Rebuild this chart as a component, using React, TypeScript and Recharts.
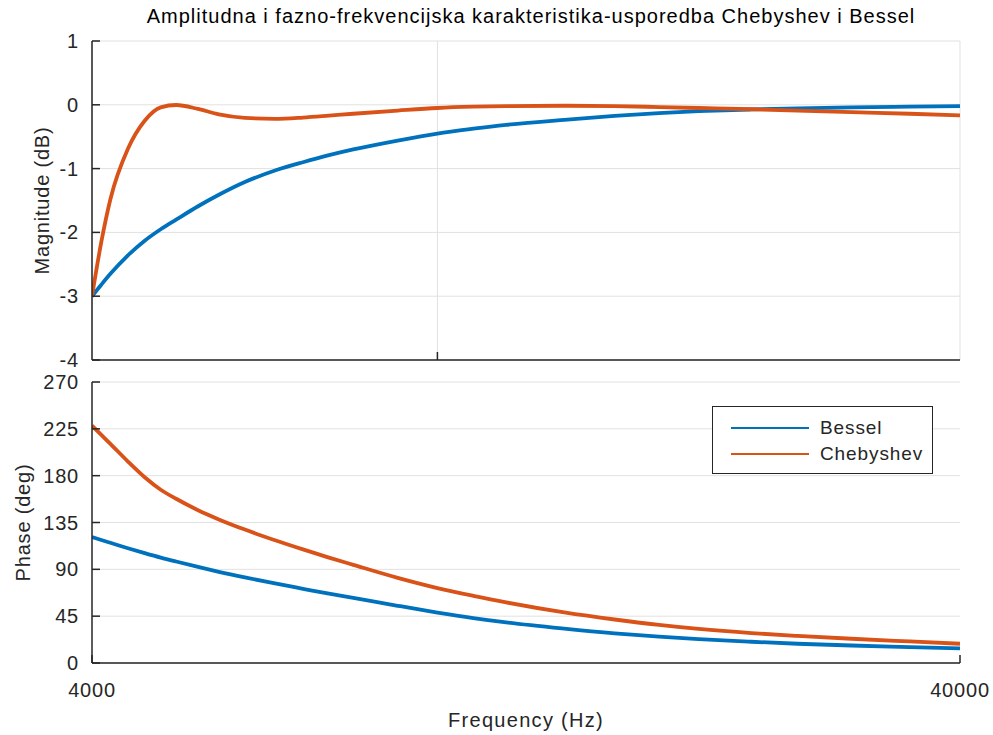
import { LineChart, Line, XAxis, YAxis, CartesianGrid, Legend } from "recharts";

// frequency points (Hz), log axis
const freq = [
  4000, 4100, 4200, 4400, 4600, 4800, 5000, 5300, 5600, 6000, 6500, 7000, 7500, 8000,
  9000, 10000, 11000, 12000, 14000, 16000, 18000, 20000, 23000, 26000, 30000, 35000, 40000,
];

// magnitude (dB)
const besselMag = [
  -3.0, -2.82, -2.65, -2.36, -2.13, -1.95, -1.8, -1.59, -1.41, -1.21, -1.03, -0.9, -0.79, -0.7,
  -0.56, -0.45, -0.375, -0.315, -0.235, -0.175, -0.13, -0.1, -0.073, -0.055, -0.04, -0.03, -0.022,
];
const chebyMag = [
  -3.0, -2.15, -1.48, -0.69, -0.25, -0.04, -0.003, -0.065, -0.15, -0.205, -0.22, -0.2, -0.17, -0.14,
  -0.09, -0.05, -0.03, -0.02, -0.015, -0.02, -0.035, -0.05, -0.07, -0.09, -0.115, -0.14, -0.165,
];

// phase (deg)
const besselPhase = [
  121, 118.2, 115.5, 110.3, 105.6, 101.3, 97.5, 92.3, 87.6, 82.2, 76.4, 71.3, 66.6, 62.6,
  55, 48.5, 43.2, 39, 33, 28.5, 25.3, 22.9, 20.4, 18.5, 16.8, 15.3, 14,
];
const chebyPhase = [
  228, 219.2, 210.6, 193.6, 178.5, 166.5, 157.8, 146.8, 138, 128.2, 118, 109.2, 101.3, 94.3,
  81.8, 72, 64.5, 58.2, 48.6, 41.8, 36.6, 32.7, 28.7, 26, 23.3, 20.7, 18.5,
];

const magTicks = [-4, -3, -2, -1, 0, 1];
const phaseTicks = [0, 45, 90, 135, 180, 225, 270];
const freqLabels = [4000, 40000];
const freqGrid = [10000];

const BLUE = "#0072BD";
const ORANGE = "#D95319";
const AXIS = "#262626";
const GRID = "#e1e1e1";
const FONT = "'Liberation Sans', Arial, Helvetica, sans-serif";

const magData = freq.map((f, i) => ({ freq: f, bessel: besselMag[i], chebyshev: chebyMag[i] }));
const phaseData = freq.map((f, i) => ({ freq: f, bessel: besselPhase[i], chebyshev: chebyPhase[i] }));

const TICK_LEN = 8;
const labelText = { fill: AXIS, fontSize: 20, letterSpacing: 0.8, fontFamily: FONT };
const axisLine = { stroke: AXIS, strokeWidth: 1.5 };

// matlab style ticks point into the plot box
const leftTick = (gap: number) => (props: any) => {
  const { x, y, payload } = props;
  const ax = x + gap;
  return (
    <g>
      <line x1={ax} x2={ax + TICK_LEN} y1={y} y2={y} stroke={AXIS} strokeWidth={1.5} />
      <text x={x} y={y} dy="0.35em" textAnchor="end" style={labelText}>
        {payload.value}
      </text>
    </g>
  );
};

const rightTick = (gap: number) => (props: any) => {
  const { x, y } = props;
  const ax = x - gap;
  return <line x1={ax - TICK_LEN} x2={ax} y1={y} y2={y} stroke={AXIS} strokeWidth={1.5} />;
};

const bottomTick = (gap: number, withLabel: boolean) => (props: any) => {
  const { x, y, payload } = props;
  const ay = y - gap;
  return (
    <g>
      <line x1={x} x2={x} y1={ay - TICK_LEN} y2={ay} stroke={AXIS} strokeWidth={1.5} />
      {withLabel && (
        <text x={x} y={y} dy="0.71em" textAnchor="middle" style={labelText}>
          {payload.value}
        </text>
      )}
    </g>
  );
};

const topTick = (gap: number) => (props: any) => {
  const { x, y } = props;
  const ay = y + gap;
  return <line x1={x} x2={x} y1={ay} y2={ay + TICK_LEN} stroke={AXIS} strokeWidth={1.5} />;
};

function LegendBox({ payload }: any) {
  return (
    <div
      style={{
        width: 221,
        height: 68,
        border: `1.5px solid ${AXIS}`,
        background: "#fff",
        boxSizing: "border-box",
        paddingTop: 8,
      }}
    >
      {(payload || []).map((p: any) => (
        <div key={p.value} style={{ display: "flex", alignItems: "center", height: 26 }}>
          <svg width={96} height={10} style={{ flex: "none" }}>
            <line x1={18} x2={96} y1={5} y2={5} stroke={p.color} strokeWidth={2} />
          </svg>
          <span style={{ marginLeft: 11, fontSize: 19, letterSpacing: 0.9, color: AXIS, fontFamily: FONT }}>
            {p.value}
          </span>
        </div>
      ))}
    </div>
  );
}

export default function App() {
  return (
    <div
      style={{
        position: "absolute",
        left: 0,
        top: 0,
        width: 993,
        height: 735,
        background: "#fff",
        fontFamily: FONT,
        overflow: "hidden",
      }}
    >
      <div
        style={{
          position: "absolute",
          left: 97,
          top: 4,
          width: 868,
          textAlign: "center",
          fontSize: 20,
          lineHeight: "24px",
          letterSpacing: 1.0,
          color: "#000",
        }}
      >
        Amplitudna i fazno-frekvencijska karakteristika-usporedba Chebyshev i Bessel
      </div>

      <div style={{ position: "absolute", left: 0, top: 0 }}>
        <LineChart width={993} height={372} data={magData} margin={{ top: 41, right: 33, left: 0, bottom: 0 }}>
          <CartesianGrid stroke={GRID} strokeWidth={1} />
          <XAxis
            dataKey="freq"
            type="number"
            scale="log"
            domain={[4000, 40000]}
            allowDataOverflow
            ticks={freqGrid}
            interval={0}
            tickSize={0}
            tickMargin={4}
            tickLine={false}
            tick={bottomTick(4, false)}
            height={12}
            axisLine={axisLine}
          />
          <XAxis
            xAxisId="top"
            orientation="top"
            dataKey="freq"
            type="number"
            scale="log"
            domain={[4000, 40000]}
            allowDataOverflow
            ticks={freqGrid}
            interval={0}
            tickSize={0}
            tickMargin={4}
            tickLine={false}
            tick={topTick(4)}
            height={0}
            axisLine={axisLine}
          />
          <YAxis
            type="number"
            domain={[-4, 1]}
            ticks={magTicks}
            interval={0}
            allowDataOverflow
            width={92}
            tickSize={0}
            tickMargin={13}
            tickLine={false}
            tick={leftTick(13)}
            axisLine={axisLine}
            label={{
              value: "Magnitude (dB)",
              angle: -90,
              position: "insideLeft",
              offset: 42,
              style: { textAnchor: "middle", ...labelText },
            }}
          />
          <YAxis
            yAxisId="right"
            orientation="right"
            type="number"
            domain={[-4, 1]}
            ticks={magTicks}
            width={0}
            tick={false}
            tickLine={false}
            axisLine={axisLine}
          />
          <Line
            type="monotone"
            dataKey="bessel"
            name="Bessel"
            stroke={BLUE}
            strokeWidth={3.8}
            dot={false}
            isAnimationActive={false}
          />
          <Line
            type="monotone"
            dataKey="chebyshev"
            name="Chebyshev"
            stroke={ORANGE}
            strokeWidth={3.8}
            dot={false}
            isAnimationActive={false}
          />
        </LineChart>
      </div>

      <div style={{ position: "absolute", left: 0, top: 370 }}>
        <LineChart width={993} height={365} data={phaseData} margin={{ top: 12, right: 33, left: 0, bottom: 0 }}>
          <CartesianGrid stroke={GRID} strokeWidth={1} vertical={false} />
          <XAxis
            dataKey="freq"
            type="number"
            scale="log"
            domain={[4000, 40000]}
            allowDataOverflow
            ticks={freqLabels}
            interval={0}
            tickSize={0}
            tickMargin={20}
            tickLine={false}
            tick={bottomTick(20, true)}
            height={72}
            axisLine={axisLine}
            label={{
              value: "Frequency (Hz)",
              position: "insideBottom",
              offset: 8,
              style: { ...labelText, letterSpacing: 1.3 },
            }}
          />
          <XAxis
            xAxisId="top"
            orientation="top"
            dataKey="freq"
            type="number"
            scale="log"
            domain={[4000, 40000]}
            allowDataOverflow
            ticks={freqLabels}
            tick={false}
            tickLine={false}
            height={0}
            axisLine={axisLine}
          />
          <YAxis
            type="number"
            domain={[0, 270]}
            ticks={phaseTicks}
            interval={0}
            allowDataOverflow
            width={92}
            tickSize={0}
            tickMargin={13}
            tickLine={false}
            tick={leftTick(13)}
            axisLine={axisLine}
            label={{
              value: "Phase (deg)",
              angle: -90,
              position: "insideLeft",
              offset: 23,
              style: { textAnchor: "middle", ...labelText },
            }}
          />
          <YAxis
            yAxisId="right"
            orientation="right"
            type="number"
            domain={[0, 270]}
            ticks={phaseTicks}
            interval={0}
            width={0}
            tickSize={0}
            tickMargin={4}
            tickLine={false}
            tick={rightTick(4)}
            axisLine={axisLine}
          />
          <Legend
            layout="vertical"
            align="center"
            verticalAlign="middle"
            content={<LegendBox />}
            wrapperStyle={{ left: 712, top: 36, width: 221, height: 68 }}
          />
          <Line
            type="monotone"
            dataKey="bessel"
            name="Bessel"
            stroke={BLUE}
            strokeWidth={3.8}
            dot={false}
            isAnimationActive={false}
          />
          <Line
            type="monotone"
            dataKey="chebyshev"
            name="Chebyshev"
            stroke={ORANGE}
            strokeWidth={3.8}
            dot={false}
            isAnimationActive={false}
          />
        </LineChart>
      </div>
    </div>
  );
}
